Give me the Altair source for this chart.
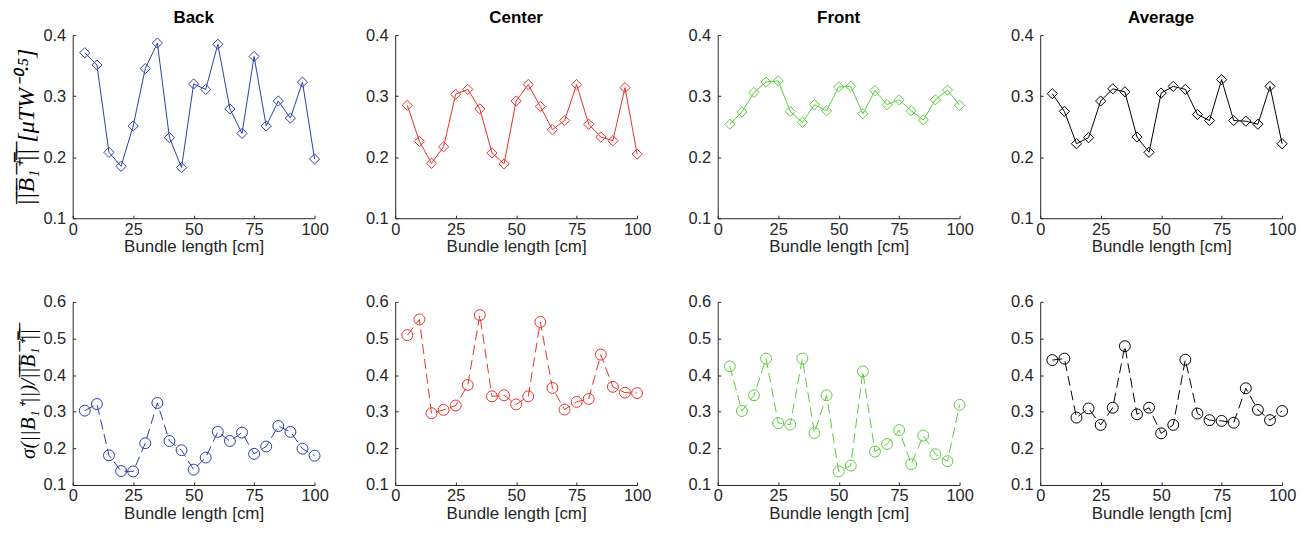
import altair as alt
import pandas as pd

bundle_length = [5, 10, 15, 20, 25, 30, 35, 40, 45, 50, 55, 60, 65, 70, 75, 80, 85, 90, 95, 100]

panel_names = ["Back", "Center", "Front", "Average"]
panel_colors = ["#2b3fa8", "#e8302a", "#5ccb3c", "#000000"]

mean_back = [0.371, 0.351, 0.208, 0.185, 0.251, 0.345, 0.387, 0.232, 0.183, 0.320,
             0.311, 0.385, 0.279, 0.239, 0.365, 0.251, 0.292, 0.264, 0.323, 0.197]
mean_center = [0.285, 0.226, 0.190, 0.217, 0.303, 0.311, 0.279, 0.207, 0.189, 0.292,
               0.319, 0.283, 0.245, 0.260, 0.319, 0.254, 0.233, 0.227, 0.314, 0.205]
mean_front = [0.254, 0.274, 0.306, 0.323, 0.325, 0.275, 0.257, 0.286, 0.276, 0.315,
              0.316, 0.271, 0.309, 0.286, 0.294, 0.276, 0.261, 0.294, 0.310, 0.285]
mean_average = [0.304, 0.275, 0.222, 0.232, 0.292, 0.312, 0.307, 0.233, 0.208, 0.305,
                0.316, 0.311, 0.270, 0.260, 0.327, 0.260, 0.259, 0.254, 0.316, 0.222]

cv_back = [0.303, 0.321, 0.181, 0.138, 0.137, 0.214, 0.324, 0.220, 0.195, 0.142,
           0.175, 0.245, 0.220, 0.243, 0.185, 0.205, 0.261, 0.245, 0.199, 0.180]
cv_center = [0.509, 0.552, 0.296, 0.305, 0.317, 0.373, 0.564, 0.342, 0.345, 0.320,
             0.342, 0.545, 0.365, 0.306, 0.327, 0.335, 0.456, 0.368, 0.352, 0.351]
cv_front = [0.424, 0.302, 0.345, 0.445, 0.269, 0.265, 0.445, 0.242, 0.345, 0.137,
            0.153, 0.410, 0.191, 0.212, 0.250, 0.157, 0.235, 0.184, 0.165, 0.319]
cv_average = [0.441, 0.445, 0.284, 0.309, 0.264, 0.311, 0.479, 0.293, 0.311, 0.241,
              0.264, 0.442, 0.295, 0.277, 0.275, 0.270, 0.364, 0.305, 0.277, 0.302]

top_series = [mean_back, mean_center, mean_front, mean_average]
bottom_series = [cv_back, cv_center, cv_front, cv_average]

x_ticks = [0, 25, 50, 75, 100]
top_ticks = [0.1, 0.2, 0.3, 0.4]
bottom_ticks = [0.1, 0.2, 0.3, 0.4, 0.5, 0.6]

OL = "\u0305"
norm_bar = "".join(c + OL for c in "||B\u2081\u207a||")
top_ylabel = norm_bar + "   [\u03bcTW\u207b\u2070\u00b7\u2075]"
bottom_ylabel = "\u03c3(||B\u2081\u207a||)/" + norm_bar

W, H = 243, 184
AX = "#262626"


def make_panel(values, color, col, top):
    df = pd.DataFrame({"x": bundle_length, "y": values})
    if top:
        ydom, yt, ylab = [0.1, 0.4], top_ticks, top_ylabel
    else:
        ydom, yt, ylab = [0.1, 0.6], bottom_ticks, bottom_ylabel
    x = alt.X("x:Q", scale=alt.Scale(domain=[0, 100], nice=False),
              axis=alt.Axis(values=x_ticks, title="Bundle length [cm]", format="d"))
    if col == 0:
        yaxis = alt.Axis(values=yt, format=".1f", title=ylab,
                         titleFont="Liberation Serif", titleFontStyle="italic",
                         titleFontSize=24 if top else 21, titleColor="#000000",
                         titlePadding=4)
    else:
        yaxis = alt.Axis(values=yt, format=".1f", title=None)
    y = alt.Y("y:Q", scale=alt.Scale(domain=ydom, nice=False, zero=False), axis=yaxis)
    base = alt.Chart(df).encode(x=x, y=y)
    if top:
        line = base.mark_line(color=color, strokeWidth=1)
        pts = base.mark_point(shape="diamond", size=105, filled=False,
                              color=color, strokeWidth=1, opacity=1)
    else:
        line = base.mark_line(color=color, strokeWidth=1, strokeDash=[10, 5])
        pts = base.mark_point(shape="circle", size=120, filled=False,
                              color=color, strokeWidth=1, opacity=1)
    ch = alt.layer(line, pts).properties(width=W, height=H)
    if top:
        ch = ch.properties(title=alt.TitleParams(panel_names[col], fontSize=17,
                                                 fontWeight="bold", font="Liberation Sans",
                                                 color="#000000", offset=0))
    return ch


panels = [make_panel(top_series[i], panel_colors[i], i, True) for i in range(4)] + \
         [make_panel(bottom_series[i], panel_colors[i], i, False) for i in range(4)]

chart = alt.concat(*panels, columns=4, spacing={"row": 84, "column": 81}, bounds="flush").properties(
    padding={"left": 7, "top": 0, "right": 5, "bottom": 5}
).configure_view(strokeWidth=0).configure_axis(
    domainColor=AX, domainWidth=1, tickSize=0, grid=True, gridColor=AX, gridWidth=1,
    gridOpacity=1, labelFont="Liberation Sans", labelFontSize=16.5,
    labelColor=AX, labelFlush=False, titleFont="Liberation Sans", titleFontSize=17,
    titleFontWeight="normal", titleColor=AX
).configure_axisX(labelPadding=3, titlePadding=1, gridDash=[0, H - 3, 3, 4000]
).configure_axisY(labelPadding=7, gridDash=[3, 4000])

chart.save("out.html", embed_options={"renderer": "svg", "actions": False})
